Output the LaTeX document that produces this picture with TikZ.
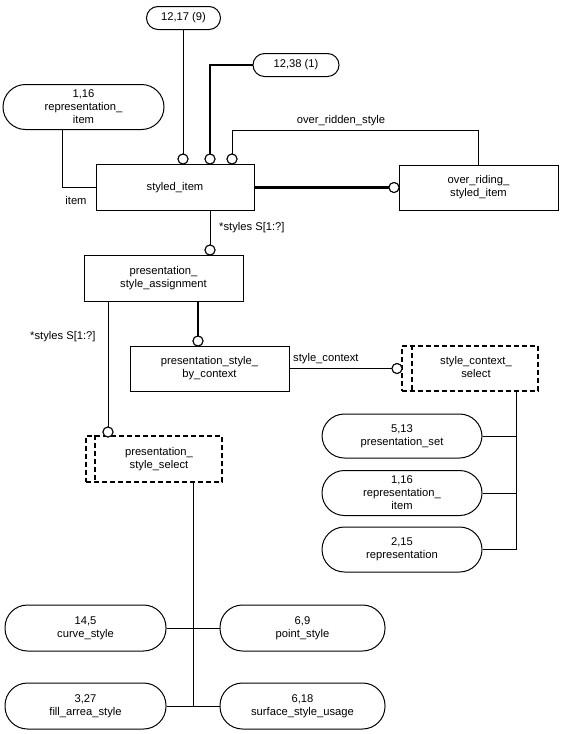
\documentclass[tikz,border=0pt]{standalone}
\usepackage{fontspec}
\setmainfont{Liberation Sans}
\usetikzlibrary{calc}
\begin{document}
\begin{tikzpicture}[x=1pt,y=-1pt,
  font=\fontsize{11.2}{13}\selectfont,
  ln/.style={line width=1pt},
  thk/.style={line width=2.8pt},
  ent/.style={draw, line width=1pt, rectangle, align=center, inner sep=0pt, minimum width=158pt, minimum height=46pt},
  pill/.style={draw, line width=1pt, rounded corners=22.5pt, minimum width=161pt, minimum height=45pt, align=center, inner sep=0pt},
  smallpill/.style={draw, line width=1pt, rounded corners=11.5pt, minimum height=23pt, align=center, inner sep=0pt},
  selbox/.style={draw, line width=1.8pt, dash pattern=on 5pt off 3pt, minimum width=136pt, minimum height=45pt, inner sep=0pt, align=center},
  selline/.style={line width=1.8pt, dash pattern=on 5pt off 3pt},
  circ/.style={draw, circle, line width=1pt, minimum size=10pt, inner sep=0pt, fill=white},
  lbl/.style={inner sep=0pt}]
\useasboundingbox (0,0) rectangle (562,734);

% nodes
\node[smallpill, minimum width=74pt] (n1217) at (183.5,18) {12,17 (9)};
\node[smallpill, minimum width=86pt] (n1238) at (296,65) {12,38 (1)};
\node[pill] (rep1) at (83.5,107) {1,16\\representation\_\\item};
\node[ent] (styled) at (175,187.5) {styled\_item};
\node[ent, minimum width=159pt, minimum height=45pt] (ors) at (478.5,187.5) {over\_riding\_\\styled\_item};
\node[ent, minimum width=159pt] (psa) at (163.5,278) {presentation\_\\style\_assignment};
\node[ent, minimum width=159pt, minimum height=45pt] (psbc) at (209.5,368.5) {presentation\_style\_\\by\_context};
\node[selbox] (scs) at (470,368.5) {\hspace*{12pt}\begin{tabular}{@{}c@{}}style\_context\_\\select\end{tabular}};
\node[selbox, minimum height=46pt] (pss) at (154,459) {\hspace*{10pt}\begin{tabular}{@{}c@{}}presentation\_\\style\_select\end{tabular}};
\node[pill, minimum width=160pt, minimum height=44pt] (pset) at (402,436) {5,13\\presentation\_set};
\node[pill, minimum width=160pt] (rep2) at (402,493) {1,16\\representation\_\\item};
\node[pill, minimum width=160pt] (repr) at (402,549.5) {2,15\\representation};
\node[pill, minimum height=46pt] (curve) at (85.5,628) {14,5\\curve\_style};
\node[pill, minimum width=165pt, minimum height=46pt] (point) at (302.5,628) {6,9\\point\_style};
\node[pill, minimum height=46pt] (fill) at (85.5,706) {3,27\\fill\_arrea\_style};
\node[pill, minimum width=165pt, minimum height=46pt] (surf) at (302.5,706) {6,18\\surface\_style\_usage};

% inner lines of select boxes
\draw[selline] ($(scs.north west)+(11,0)$) -- ($(scs.south west)+(11,0)$);
\draw[selline] ($(pss.north west)+(10,0)$) -- ($(pss.south west)+(10,0)$);

% circle nodes
\node[circ] (c1) at (183,159) {};
\node[circ] (c2) at (210,159) {};
\node[circ] (c3) at (232,159) {};
\node[circ] (c5) at (394,187.5) {};
\node[circ] (c6) at (210,250) {};
\node[circ] (c7) at (198,341) {};
\node[circ] (c8) at (108,432) {};
\node[circ] (c9) at (397,368.5) {};

\coordinate (sx) at (516,391);
\coordinate (px) at (193,482);

% connectors
\draw[ln] (n1217.south -| c1) -- (c1.north);
\draw[thk] (n1238.west) -| (c2.north);
\draw[ln] (ors.north) |- ($(c3.north)+(0,-23)$) -- (c3.north);
\draw[ln] ($(rep1.south)+(-21.5,0)$) |- (styled.west);
\draw[thk] (styled.east) -- (c5.west);
\draw[ln] (styled.south -| c6) -- (c6.north);
\draw[thk] (psa.south -| c7) -- (c7.north);
\draw[ln] (psa.south -| c8) -- (c8.north);
\draw[ln] (psbc.east) -- (c9.west);
\draw[ln] (scs.south -| sx) |- (repr.east);
\draw[ln] (pset.east) -- (pset.east -| sx);
\draw[ln] (rep2.east) -- (rep2.east -| sx);
\draw[ln] (pss.south -| px) -- (px |- fill.east);
\draw[ln] (curve.east) -- (point.west);
\draw[ln] (fill.east) -- (surf.west);

% redraw circles on top
\foreach \c in {c1,c2,c3,c5,c6,c7,c8,c9} \node[circ] at (\c) {};

% labels
\node[lbl] (l1) at (341,121) {over\_ridden\_style};
\node[lbl] (l2) at (76,200) {item};
\node[lbl, anchor=west] (l3) at (219,228) {*styles S[1:?]};
\node[lbl, anchor=west] (l4) at (30,337) {*styles S[1:?]};
\node[lbl, anchor=west] (l5) at (293,359) {style\_context};
\end{tikzpicture}
\end{document}
